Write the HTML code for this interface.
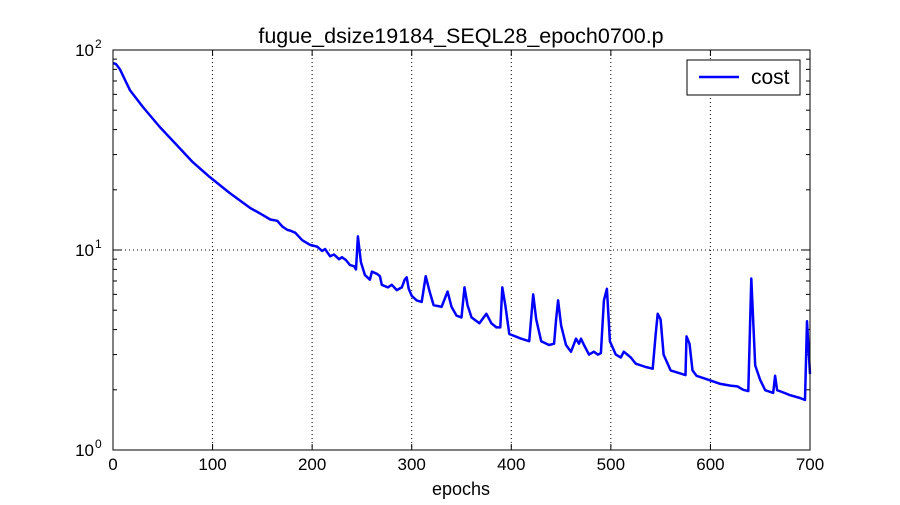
<!DOCTYPE html>
<html><head><meta charset="utf-8"><style>
body{margin:0;background:#fff;}
svg text{font-family:"Liberation Sans",sans-serif;fill:#000;}
</style></head><body>
<svg id="chart" width="900" height="500" xmlns="http://www.w3.org/2000/svg">
<rect width="900" height="500" fill="#fff"/>
<g id="grid"></g><g id="ticks"></g>
<path id="line" fill="none" stroke="#0000ff" stroke-width="2.5" stroke-linejoin="round"/>
<rect x="113" y="50" width="697" height="400" fill="none" stroke="#000" stroke-width="1"/>
<text x="461" y="43" font-size="21.5" text-anchor="middle">fugue_dsize19184_SEQL28_epoch0700.p</text>
<text x="461" y="495" font-size="18" text-anchor="middle">epochs</text>
<g>
<rect x="687" y="60" width="113" height="35" fill="#fff" stroke="#000"/>
<line x1="699" y1="77" x2="739" y2="77" stroke="#0000ff" stroke-width="2.5"/>
<text x="751" y="84" font-size="21">cost</text>
</g>
</svg>
<script>
const epochs=[0,3,7,17,30,47,64,80,97,117,138,150,158,165,170,175,178,183,190,198,205,210,213,218,222,227,230,234,238,242,244,246,249,253,258,260,265,268,270,276,280,285,290,293,295,297,300,305,310,314,318,322,330,336,340,345,350,353,356,360,368,375,380,385,389,391,394,398,410,418,422,425,430,438,443,445,447,450,455,460,465,468,470,473,478,483,487,490,493,496,499,505,510,513,520,525,535,542,545,547,550,553,560,575,576,579,582,586,595,610,620,627,633,638,641,645,650,655,663,665,667,672,680,690,695,697,700];
const costs=[86,85,80,63,51.9,41.2,33.5,27.5,23.2,19.3,16.2,15.0,14.2,14.0,13.1,12.6,12.5,12.2,11.2,10.6,10.4,9.9,10.1,9.3,9.5,9.0,9.2,8.9,8.4,8.3,8.0,11.7,8.7,7.5,7.1,7.8,7.6,7.4,6.7,6.5,6.7,6.3,6.5,7.1,7.3,6.4,5.9,5.6,5.5,7.4,6.2,5.3,5.2,6.2,5.2,4.7,4.6,6.5,5.3,4.6,4.3,4.8,4.3,4.1,4.1,6.5,5.3,3.8,3.6,3.5,6.0,4.5,3.5,3.35,3.4,4.5,5.6,4.2,3.35,3.1,3.6,3.4,3.6,3.35,3.0,3.1,3.0,3.05,5.6,6.4,3.5,3.0,2.9,3.1,2.9,2.7,2.6,2.55,3.8,4.8,4.5,3.0,2.5,2.37,3.7,3.4,2.5,2.35,2.27,2.14,2.1,2.08,2.0,1.97,7.2,2.65,2.24,1.99,1.93,2.35,1.99,1.95,1.88,1.82,1.78,4.4,2.4];
const xTicks=[0,100,200,300,400,500,600,700];
const yDecades=[0,1,2];
const X=e=>113+e*697/700, Y=v=>450-200*Math.log10(v);
const ns="http://www.w3.org/2000/svg";
function mk(tag,attrs,parent){const el=document.createElementNS(ns,tag);for(const k in attrs)el.setAttribute(k,attrs[k]);parent.appendChild(el);return el;}
const grid=document.getElementById('grid'),ticks=document.getElementById('ticks');
xTicks.forEach(t=>{const x=X(t);
 if(t>0&&t<700){const g=mk('line',{x1:x,y1:50,x2:x,y2:450,stroke:'#000','stroke-dasharray':'1,3','stroke-width':1},grid);
 
 }
 mk('line',{x1:x,y1:450,x2:x,y2:444,stroke:'#000'},ticks);mk('line',{x1:x,y1:50,x2:x,y2:56,stroke:'#000'},ticks);
 const tx=mk('text',{x:x,y:470,'font-size':17,'text-anchor':'middle'},ticks);tx.textContent=t;
 
 });
yDecades.forEach(d=>{const y=Y(Math.pow(10,d));
 if(d==1){const g=mk('line',{x1:113,y1:y,x2:810,y2:y,stroke:'#000','stroke-dasharray':'1,3'},grid);
 
 }
 mk('line',{x1:113,y1:y,x2:121,y2:y,stroke:'#000'},ticks);mk('line',{x1:810,y1:y,x2:802,y2:y,stroke:'#000'},ticks);
 const tx=mk('text',{x:94,y:y+6,'font-size':17,'text-anchor':'end'},ticks);tx.textContent='10';
 
 
 const sp=mk('text',{x:95,y:y-2,'font-size':12},ticks);sp.textContent=d;
 if(d<2)for(let m=2;m<10;m++){const yy=Y(m*Math.pow(10,d));
  mk('line',{x1:113,y1:yy,x2:117,y2:yy,stroke:'#000'},ticks);mk('line',{x1:810,y1:yy,x2:806,y2:yy,stroke:'#000'},ticks);}
});
document.getElementById('line').setAttribute('d',epochs.map((e,i)=>(i?'L':'M')+X(e).toFixed(1)+','+Y(costs[i]).toFixed(1)).join(''));
</script>
</body></html>
